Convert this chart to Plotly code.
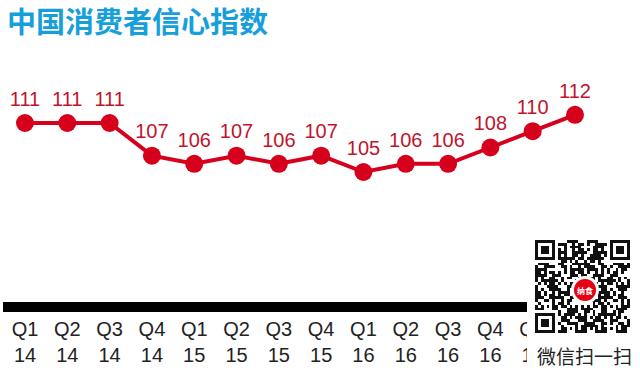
import plotly.graph_objects as go

# ---- data ----
quarters = ["Q1", "Q2", "Q3", "Q4", "Q1", "Q2", "Q3", "Q4", "Q1", "Q2", "Q3", "Q4", "Q1", "Q2"]
years = ["14", "14", "14", "14", "15", "15", "15", "15", "16", "16", "16", "16", "17", "17"]
values = [111, 111, 111, 107, 106, 107, 106, 107, 105, 106, 106, 108, 110, 112]
title_text = "中国消费者信心指数"
qr_caption = "微信扫一扫"

W, H = 640, 375
idx = list(range(len(values)))
ticktext = [f"{q}<br>{y}" for q, y in zip(quarters, years)]

RED = "#d6001c"
LABEL_RED = "#c0142c"

fig = go.Figure()

fig.add_trace(go.Scatter(
    x=idx, y=values, mode="lines+markers+text",
    line=dict(color=RED, width=4),
    marker=dict(color=RED, size=18),
    text=[str(v) for v in values],
    textposition="top center",
    textfont=dict(family="Liberation Sans, Arial", size=20, color=LABEL_RED),
    hoverinfo="skip", showlegend=False, cliponaxis=False,
))

# ---- QR code decoration (pixel-coordinate subplot) ----
N = 33
qr = [[0] * N for _ in range(N)]
for i in range(N):
    for j in range(N):
        qr[i][j] = 1 if ((i * i * 3 + j * 5 + i * j * 7 + (i ^ j)) % 7) < 4 else 0

def finder(r0, c0):
    for a in range(-1, 8):
        for b in range(-1, 8):
            r, c = r0 + a, c0 + b
            if 0 <= r < N and 0 <= c < N:
                if 0 <= a <= 6 and 0 <= b <= 6:
                    edge = a in (0, 6) or b in (0, 6)
                    core = 2 <= a <= 4 and 2 <= b <= 4
                    qr[r][c] = 1 if (edge or core) else 0
                else:
                    qr[r][c] = 0

finder(0, 0)
finder(0, N - 7)
finder(N - 7, 0)

qx0, qx1, qy0, qy1 = 535, 630, 240, 333
fig.add_trace(go.Heatmap(
    z=[[0]], x=[527, 640], y=[233, 375], xaxis="x2", yaxis="y2",
    colorscale=[[0, "white"], [1, "white"]], showscale=False, hoverinfo="skip",
))
fig.add_trace(go.Heatmap(
    z=qr,
    x=[qx0 + (qx1 - qx0) * k / N for k in range(N + 1)],
    y=[qy0 + (qy1 - qy0) * k / N for k in range(N + 1)],
    xaxis="x2", yaxis="y2", zmin=0, zmax=1,
    colorscale=[[0, "white"], [1, "#111111"]], showscale=False, hoverinfo="skip",
))

fig.add_shape(type="circle", xref="x2", yref="y2", x0=571, x1=599, y0=276, y1=304,
              fillcolor="white", line=dict(width=0), layer="above")
fig.add_shape(type="circle", xref="x2", yref="y2", x0=574, x1=596, y0=279, y1=301,
              fillcolor="#e60012", line=dict(width=0), layer="above")

px_per_idx = 550 / 13.0
px_per_val = 49 / 6.0
dom0 = 3
x_start = -(25 - dom0) / px_per_idx
x_end = x_start + (W - dom0) / px_per_idx
y_top = 111 + 123 / px_per_val
y_bot = y_top - H / px_per_val

fig.add_annotation(x=5 / W, y=1 - 20 / H, xref="paper", yref="paper", text=f"<b>{title_text}</b>",
                   showarrow=False, xanchor="left", yanchor="middle",
                   font=dict(family="Noto Sans CJK SC", size=29, color="#169fdb"))
fig.add_annotation(x=585, y=290, xref="x2", yref="y2", text="<b>纳食</b>", showarrow=False,
                   font=dict(family="Noto Sans CJK SC", size=8, color="white"))
fig.add_annotation(x=584, y=355, xref="x2", yref="y2", text=qr_caption, showarrow=False,
                   font=dict(family="Noto Sans CJK SC", size=19, color="#222222"))

fig.update_layout(
    width=W, height=H,
    margin=dict(l=0, r=0, t=0, b=0),
    paper_bgcolor="white", plot_bgcolor="white",
    xaxis=dict(
        domain=[dom0 / W, 1], range=[x_start, x_end],
        anchor="free", position=1 - 307 / H,
        showline=True, linecolor="black", linewidth=10,
        showgrid=False, zeroline=False, ticks="",
        tickmode="array", tickvals=idx, ticktext=ticktext,
        tickfont=dict(family="Liberation Sans, Arial", size=20, color="#222222"),
    ),
    yaxis=dict(domain=[0, 1], range=[y_bot, y_top], visible=False),
    xaxis2=dict(domain=[527 / W, 1], range=[527, 640], visible=False, fixedrange=True),
    yaxis2=dict(domain=[0, 1 - 233 / H], range=[375, 233], visible=False, fixedrange=True),
)

fig.write_html("out.html")
